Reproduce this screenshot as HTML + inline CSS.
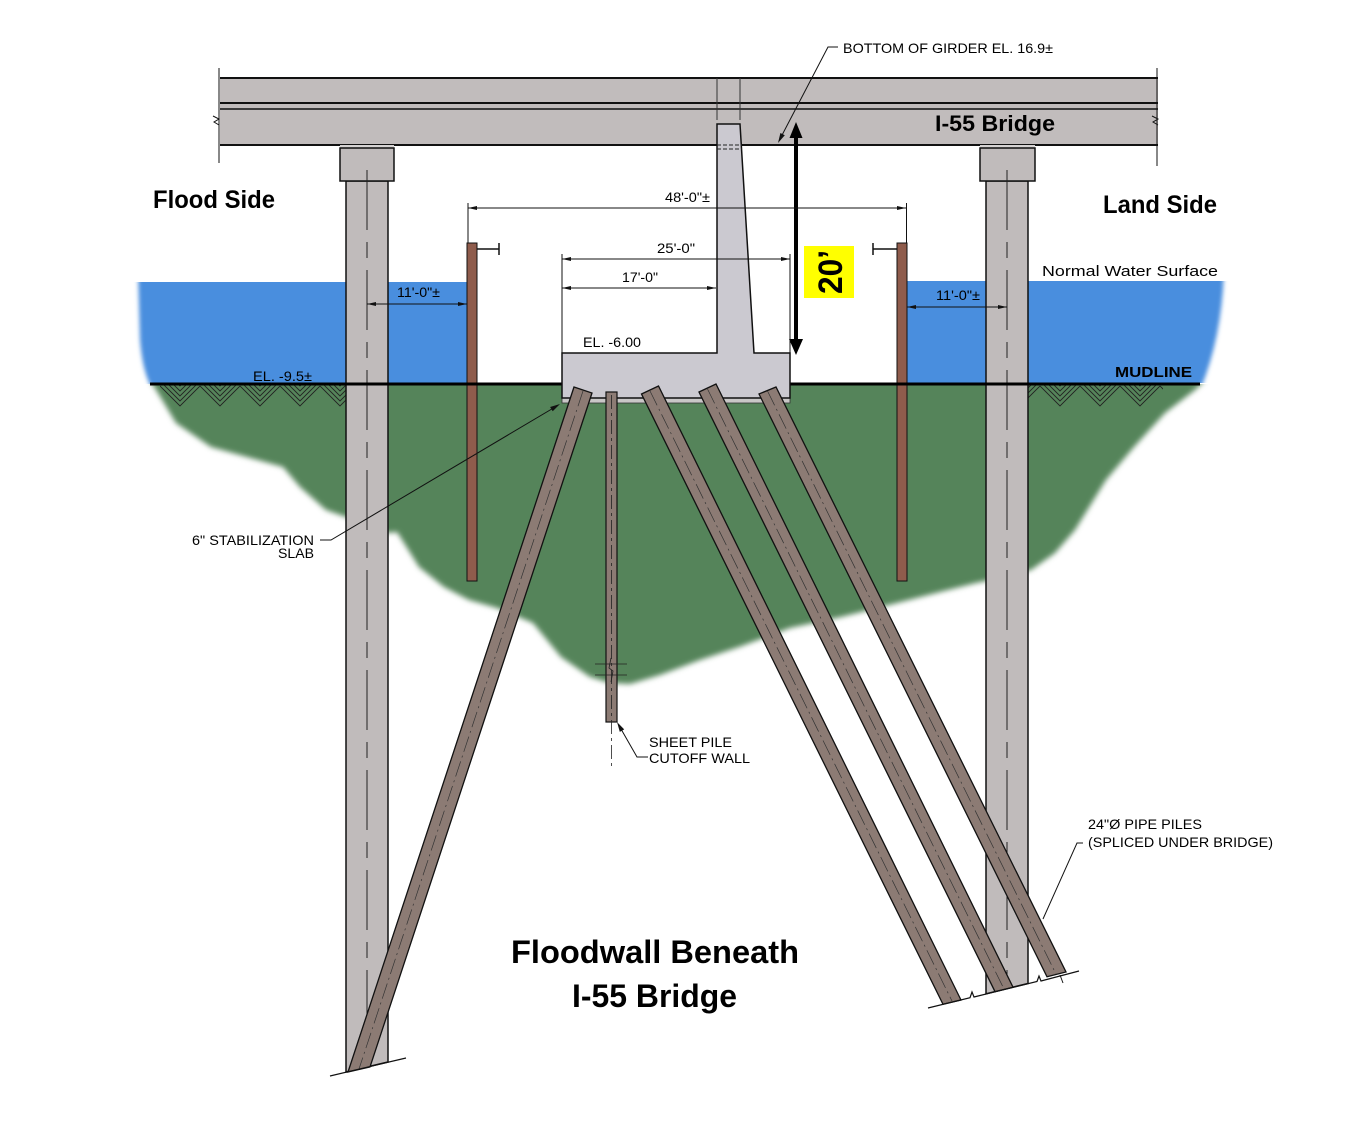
<!DOCTYPE html>
<html>
<head>
<meta charset="utf-8">
<style>
html,body{margin:0;padding:0;background:#fff;}
svg{display:block;}
text{font-family:"Liberation Sans",Arial,sans-serif;fill:#000;}
.b{font-weight:bold;}
</style>
</head>
<body>
<svg width="1350" height="1128" viewBox="0 0 1350 1128" xmlns="http://www.w3.org/2000/svg">
<defs>
  <filter id="blur" x="-5%" y="-5%" width="110%" height="110%"><feGaussianBlur stdDeviation="2.6"/></filter>
  <filter id="blur2" x="-5%" y="-5%" width="110%" height="110%"><feGaussianBlur stdDeviation="2.2"/></filter>
  <clipPath id="belowMud"><rect x="0" y="384" width="1350" height="744"/></clipPath>
  <clipPath id="wl"><rect x="100" y="282" width="367" height="102"/></clipPath>
  <clipPath id="wr"><rect x="907" y="281" width="340" height="102"/></clipPath>
  <pattern id="h" width="40" height="24" patternUnits="userSpaceOnUse" x="160" y="384">
    <path d="M0,-18 L20,2 L40,-18 M0,-13 L20,7 L40,-13 M0,-8 L20,12 L40,-8 M0,-3 L20,17 L40,-3 M0,2 L20,22 L40,2" stroke="#222" stroke-width="0.9" fill="none"/>
  </pattern>
</defs>

<rect width="1350" height="1128" fill="#fff"/>

<!-- green soil -->
<g clip-path="url(#belowMud)">
<path filter="url(#blur)" fill="#55845a" d="M150,380 L1205,380 L1195,390 L1165,413 L1134,447 L1106,480 L1075,530 L1055,553 L1031,570 L1000,578 L976,583 L940,592 L897,603 L841,617 L790,628 L739,647 L700,660 L660,675 L630,684 L610,683 L590,677 L561,657 L533,623 L497,608 L469,600 L444,587 L419,567 L404,543 L397,532 L388,533 L367,525 L346,517 L326,510 L300,487 L283,467 L247,457 L211,447 L176,423 L161,398 Z"/>
</g>

<!-- water -->
<g clip-path="url(#wl)">
<path filter="url(#blur2)" fill="#4a8ede" d="M138,270 L480,270 L480,395 L156,395 Q143,378 140,340 Z"/>
</g>
<g clip-path="url(#wr)">
<path filter="url(#blur2)" fill="#4a8ede" d="M895,270 L1224,270 Q1222,340 1198,395 L895,395 Z"/>
</g>

<!-- hatch -->
<rect x="160" y="385" width="186" height="22" fill="url(#h)"/>
<rect x="1028" y="385" width="135" height="22" fill="url(#h)"/>

<!-- girder -->
<rect x="220" y="78" width="938" height="67" fill="#c1bcbc"/>
<line x1="220" y1="78" x2="1158" y2="78" stroke="#111" stroke-width="2"/>
<line x1="220" y1="103" x2="1158" y2="103" stroke="#111" stroke-width="2"/>
<line x1="220" y1="109" x2="1158" y2="109" stroke="#111" stroke-width="1.5"/>
<line x1="220" y1="145" x2="1158" y2="145" stroke="#111" stroke-width="2"/>
<line x1="219" y1="68" x2="219" y2="163" stroke="#111" stroke-width="1"/>
<line x1="1157" y1="68" x2="1157" y2="166" stroke="#111" stroke-width="1"/>
<path d="M213,116 L219,119 L214,122 L219,125" stroke="#111" stroke-width="1" fill="none"/>
<path d="M1152,116 L1158,119 L1153,122 L1158,125" stroke="#111" stroke-width="1" fill="none"/>
<line x1="717" y1="78" x2="717" y2="120" stroke="#333" stroke-width="1"/>
<line x1="740" y1="78" x2="740" y2="120" stroke="#333" stroke-width="1"/>

<!-- left column -->
<rect x="340" y="145" width="54" height="3.5" fill="#d6d3d3"/>
<path d="M346,181 L388,181 L388,1062 L346,1072 Z" fill="#c0bbbb" stroke="#111" stroke-width="1.5"/>
<rect x="340" y="148" width="54" height="33" fill="#c0bbbb" stroke="#111" stroke-width="1.5"/>
<line x1="367" y1="170" x2="367" y2="1068" stroke="#222" stroke-width="1" stroke-dasharray="60 12 16 12"/>

<!-- right column -->
<rect x="980" y="145" width="55" height="3.5" fill="#d6d3d3"/>
<path d="M986,181 L1028,181 L1028,983.5 L986,993.8 Z" fill="#c0bbbb" stroke="#111" stroke-width="1.5"/>
<rect x="980" y="148" width="55" height="33" fill="#c0bbbb" stroke="#111" stroke-width="1.5"/>
<line x1="1007" y1="170" x2="1007" y2="988" stroke="#222" stroke-width="1" stroke-dasharray="60 12 16 12"/>

<!-- sheet piles flood/land -->
<rect x="467" y="243" width="10" height="338" fill="#8f5c4c" stroke="#111" stroke-width="1"/>
<rect x="897" y="243" width="10" height="338" fill="#8f5c4c" stroke="#111" stroke-width="1"/>
<path d="M477,249 L499,249 M499,243 L499,255" stroke="#111" stroke-width="1.5" fill="none"/>
<path d="M897,249 L873,249 M873,243 L873,255" stroke="#111" stroke-width="1.5" fill="none"/>

<!-- mudline -->
<line x1="150" y1="384" x2="562" y2="384" stroke="#000" stroke-width="3"/>
<line x1="790" y1="384" x2="1200" y2="384" stroke="#000" stroke-width="3"/>

<!-- floodwall -->
<rect x="562" y="397" width="228" height="6" fill="#c9c7c7" stroke="#333" stroke-width="0.8"/>
<path d="M717,124 L740,124 L754,353 L790,353 L790,398 L562,398 L562,353 L717,353 Z" fill="#cbc9d0" stroke="#111" stroke-width="1.5"/>
<line x1="717" y1="145" x2="742" y2="145" stroke="#222" stroke-width="1" stroke-dasharray="4 2"/>
<line x1="717" y1="149" x2="742" y2="149" stroke="#222" stroke-width="1" stroke-dasharray="4 2"/>

<!-- sheet pile cutoff wall -->
<rect x="606" y="392" width="11" height="330" fill="#8c7b74" stroke="#111" stroke-width="1.2"/>
<line x1="611.5" y1="395" x2="611.5" y2="766" stroke="#222" stroke-width="0.8" stroke-dasharray="14 4 3 4"/>
<path d="M595,664 L627,664 M595,675 L627,675" stroke="#222" stroke-width="0.8"/>
<path d="M611,658 L609,668 L613,671 L611,682" stroke="#222" stroke-width="0.8" fill="none"/>

<!-- battered piles -->
<g fill="#8c7b74" stroke="#111" stroke-width="1.3">
<path d="M574,387 L592,393 L370,1067 L348,1072 Z"/>
<path d="M641.5,394 L658.5,386 L961,1000 L943,1004.3 Z"/>
<path d="M699,392 L716,384 L1013,987.2 L995,991.6 Z"/>
<path d="M759,394 L776,387 L1066,972 L1047,976.8 Z"/>
</g>
<g stroke="#333" stroke-width="0.7" stroke-dasharray="16 4 2 4" fill="none">
<line x1="583" y1="391" x2="359" y2="1069"/>
<line x1="650" y1="391" x2="952" y2="1001"/>
<line x1="707.5" y1="389" x2="1004" y2="989"/>
<line x1="767.5" y1="391" x2="1056" y2="974"/>
</g>

<!-- cut lines -->
<path d="M330,1076 L406,1058" stroke="#111" stroke-width="1.2" fill="none"/>
<path d="M928,1008 L970,997.7 L972,992 L974,997 L1037,981.5 L1039,976 L1041,981 L1079,971" stroke="#111" stroke-width="1.2" fill="none"/>
<line x1="1060" y1="975" x2="1063" y2="983" stroke="#111" stroke-width="1"/>

<!-- 20' arrow -->
<line x1="796" y1="134" x2="796" y2="342" stroke="#000" stroke-width="4"/>
<path d="M796,122 L789.5,138 L802.5,138 Z" fill="#000"/>
<path d="M796,355 L789,339 L803,339 Z" fill="#000"/>
<rect x="804" y="246" width="50" height="52" fill="#ffff00"/>
<text class="b" font-size="34" text-anchor="middle" textLength="44" lengthAdjust="spacingAndGlyphs" transform="translate(842,272) rotate(-90)">20’</text>

<!-- dimension lines -->
<g stroke="#111" stroke-width="1" fill="none">
<line x1="468" y1="208" x2="906" y2="208"/>
<line x1="468" y1="203" x2="468" y2="243"/>
<line x1="906.5" y1="203" x2="906.5" y2="243"/>
<line x1="562" y1="259" x2="790" y2="259"/>
<line x1="562" y1="254" x2="562" y2="353"/>
<line x1="790" y1="254" x2="790" y2="353"/>
<line x1="562" y1="288" x2="716" y2="288"/>
<line x1="367" y1="304" x2="467" y2="304"/>
<line x1="907" y1="307" x2="1007" y2="307"/>
</g>
<g fill="#111">
<path d="M468,208 L477,206 L477,210 Z"/><path d="M906,208 L897,206 L897,210 Z"/>
<path d="M562,259 L571,257 L571,261 Z"/><path d="M790,259 L781,257 L781,261 Z"/>
<path d="M562,288 L571,286 L571,290 Z"/><path d="M716,288 L707,286 L707,290 Z"/>
<path d="M367,304 L376,302 L376,306 Z"/><path d="M467,304 L458,302 L458,306 Z"/>
<path d="M907,307 L916,305 L916,309 Z"/><path d="M1007,307 L998,305 L998,309 Z"/>
</g>

<!-- leaders -->
<g stroke="#111" stroke-width="1" fill="none">
<path d="M838,47 L828,47 L780,139"/>
<path d="M320,540 L331,540 L556,406.5"/>
<path d="M619,725.5 L637,757 L648,757"/>
<path d="M1083,843 L1077,843 L1043,919"/>
</g>
<g fill="#111">
<path d="M778,143 L784.8,135.3 L780.4,133 Z"/>
<path d="M560,404 L552.7,411.2 L550.1,407 Z"/>
<path d="M617,722 L624.2,729.4 L619.8,731.9 Z"/>
</g>

<!-- small texts -->
<text font-size="14" x="843" y="53" textLength="210" lengthAdjust="spacingAndGlyphs">BOTTOM OF GIRDER EL. 16.9±</text>
<text font-size="14" x="665" y="202" textLength="45" lengthAdjust="spacingAndGlyphs">48'-0"±</text>
<text font-size="14" x="657" y="253" textLength="38" lengthAdjust="spacingAndGlyphs">25'-0"</text>
<text font-size="14" x="622" y="282" textLength="36" lengthAdjust="spacingAndGlyphs">17'-0"</text>
<text font-size="14" x="583" y="347" textLength="58" lengthAdjust="spacingAndGlyphs">EL. -6.00</text>
<text font-size="14" x="397" y="297" textLength="43" lengthAdjust="spacingAndGlyphs">11'-0"±</text>
<text font-size="14" x="936" y="300" textLength="44" lengthAdjust="spacingAndGlyphs">11'-0"±</text>
<text font-size="14" x="253" y="381" textLength="59" lengthAdjust="spacingAndGlyphs">EL. -9.5±</text>
<text font-size="15" x="1042" y="276" textLength="176" lengthAdjust="spacingAndGlyphs">Normal Water Surface</text>
<text class="b" font-size="15" x="1115" y="377" textLength="77" lengthAdjust="spacingAndGlyphs">MUDLINE</text>
<text font-size="14" x="192" y="545" textLength="122" lengthAdjust="spacingAndGlyphs">6" STABILIZATION</text>
<text font-size="14" x="278" y="558" textLength="36" lengthAdjust="spacingAndGlyphs">SLAB</text>
<text font-size="14" x="649" y="747" textLength="83" lengthAdjust="spacingAndGlyphs">SHEET PILE</text>
<text font-size="14" x="649" y="763" textLength="101" lengthAdjust="spacingAndGlyphs">CUTOFF WALL</text>
<text font-size="14" x="1088" y="829" textLength="114" lengthAdjust="spacingAndGlyphs">24"Ø PIPE PILES</text>
<text font-size="14" x="1088" y="847" textLength="185" lengthAdjust="spacingAndGlyphs">(SPLICED UNDER BRIDGE)</text>

<!-- big labels -->
<text class="b" font-size="22" x="935" y="131" textLength="120" lengthAdjust="spacingAndGlyphs">I-55 Bridge</text>
<text class="b" font-size="25" x="153" y="208" textLength="122" lengthAdjust="spacingAndGlyphs">Flood Side</text>
<text class="b" font-size="25" x="1103" y="213" textLength="114" lengthAdjust="spacingAndGlyphs">Land Side</text>
<text class="b" font-size="32" x="511" y="963" textLength="288" lengthAdjust="spacingAndGlyphs">Floodwall Beneath</text>
<text class="b" font-size="32" x="572" y="1007" textLength="165" lengthAdjust="spacingAndGlyphs">I-55 Bridge</text>
</svg>
</body>
</html>
